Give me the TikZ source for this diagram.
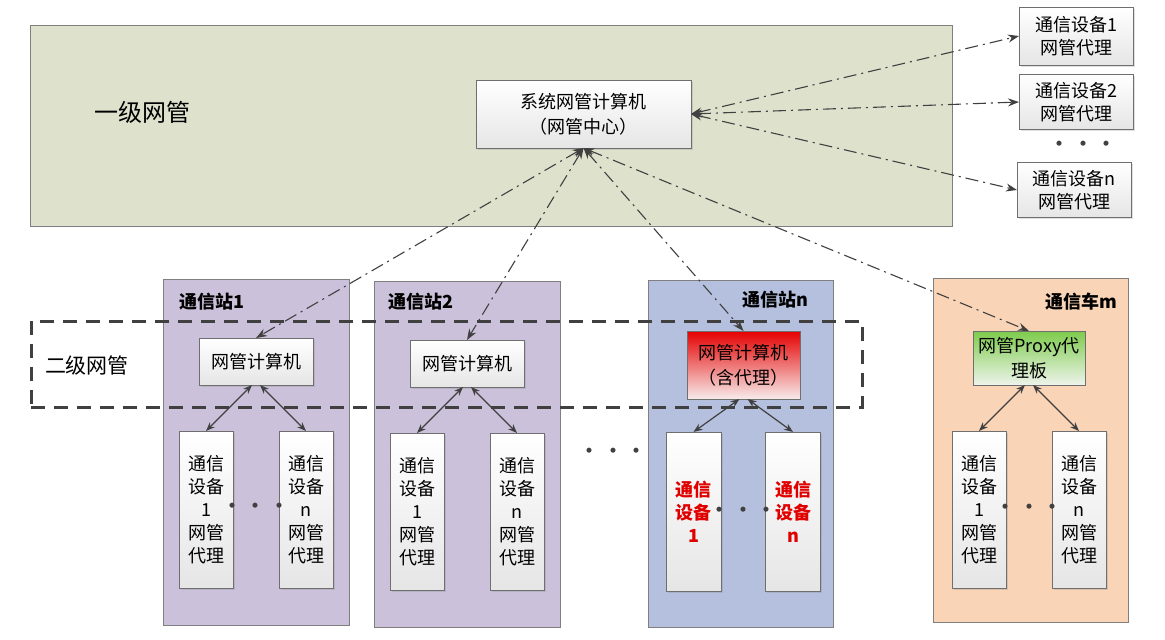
\documentclass[tikz,border=0pt]{standalone}
\usepackage{fontspec}
\setmainfont{Noto Sans CJK SC}
\usetikzlibrary{arrows.meta,shadows}
\definecolor{bgGreen}{HTML}{DEE2CD}
\definecolor{stPurple}{HTML}{CCC1DA}
\definecolor{stBlue}{HTML}{B4C0DE}
\definecolor{stPeach}{HTML}{F9D4B6}
\definecolor{edgeGray}{HTML}{7F7F7F}
\definecolor{boxEdge}{HTML}{6F6F6F}
\definecolor{arrowGray}{HTML}{404040}
\definecolor{devRed}{HTML}{E00000}
\definecolor{redTop}{HTML}{E50000}
\definecolor{redMid}{HTML}{EE3232}
\definecolor{redBot}{HTML}{F8ECEC}
\definecolor{greenTop}{HTML}{7DCB4B}
\definecolor{greenBot}{HTML}{EEF4EC}
\newcommand\fsz[2]{\fontsize{#1pt}{#2pt}\selectfont}
\newcommand\threedots{·\hskip6pt·\hskip6pt·}
\begin{document}
\begin{tikzpicture}[x=1pt,y=-1pt,
  every node/.style={inner sep=0pt, outer sep=0pt, align=center, font=\fsz{18}{23}},
  lvlbox/.style={draw=edgeGray, fill=bgGreen, line width=0.9pt},
  stbox/.style={draw=edgeGray, line width=0.9pt},
  wbox/.style={draw=boxEdge, line width=0.9pt, top color=white, bottom color=black!10,
     drop shadow={shadow xshift=1.5pt, shadow yshift=-1.5pt, opacity=0.25}},
  redbox/.style={draw=boxEdge, line width=0.9pt, top color=redTop, middle color=redMid, bottom color=redBot},
  greenbox/.style={draw=boxEdge, line width=0.9pt, top color=greenTop, bottom color=greenBot},
  devbox/.style={wbox, minimum width=54pt, minimum height=157pt},
  titlelbl/.style={font=\bfseries\fsz{18}{22}},
  dotsrow/.style={font=\bfseries\fsz{18}{22}, text=arrowGray},
  ddarrow/.style={draw=arrowGray, line width=1.1pt, dash pattern=on 13pt off 5pt on 2pt off 5pt,
     {Stealth[length=11pt,width=8pt]}-{Stealth[length=11pt,width=8pt]}},
  sarrow/.style={draw=arrowGray, line width=1.2pt,
     {Stealth[length=9pt,width=7pt]}-{Stealth[length=9pt,width=7pt]}}
]
\useasboundingbox[fill=white] (0,0) rectangle (1165,640);

% level 1 area
\node[lvlbox, minimum width=922pt, minimum height=201pt] (lvl1) at (491,125.5) {};
\node[font=\fsz{24}{28}, anchor=west] (lvl1lbl) at (94,112) {一级网管};

% stations
\node[stbox, fill=stPurple, minimum width=186pt, minimum height=346pt] (st1) at (256,452) {};
\node[stbox, fill=stPurple, minimum width=186pt, minimum height=346pt] (st2) at (467,454) {};
\node[stbox, fill=stBlue, minimum width=185pt, minimum height=347pt] (stn) at (740.5,453.5) {};
\node[stbox, fill=stPeach, minimum width=195pt, minimum height=344pt] (car) at (1030.5,450) {};

\node[titlelbl, anchor=west] (t1) at (179,302) {通信站1};
\node[titlelbl, anchor=west] (t2) at (388,302) {通信站2};
\node[titlelbl, anchor=east] (tn) at (808,300) {通信站n};
\node[titlelbl, anchor=east] (tm) at (1117,302) {通信车m};

% level 2 dashed area
\node[draw=arrowGray, line width=3pt, dash pattern=on 14pt off 9pt,
      minimum width=831pt, minimum height=86pt] (lvl2) at (446.5,364) {};
\node[font=\fsz{21}{25}, anchor=west] (lvl2lbl) at (45,365) {二级网管};

% central management computer
\node[wbox, minimum width=215pt, minimum height=68pt, font=\fsz{18}{25}] (nmc) at (583.5,114)
  {系统网管计算机\\（网管中心）};

% right-hand agents
\node[wbox, minimum width=114pt, minimum height=58pt] (a1) at (1076,36) {通信设备1\\网管代理};
\node[wbox, minimum width=114pt, minimum height=55pt] (a2) at (1076,102) {通信设备2\\网管代理};
\node[dotsrow] (adots) at (1083,146) {\threedots};
\node[wbox, minimum width=114pt, minimum height=55pt] (an) at (1074,190) {通信设备n\\网管代理};

% station computers
\node[wbox, minimum width=114pt, minimum height=47pt] (c1) at (256,361.5) {网管计算机};
\node[wbox, minimum width=114pt, minimum height=47pt] (c2) at (467,363.5) {网管计算机};
\node[redbox, minimum width=113pt, minimum height=68pt, font=\fsz{18}{25}] (cn) at (743.5,365) {网管计算机\\（含代理）};
\node[greenbox, minimum width=112pt, minimum height=54pt, font=\fsz{18}{25}] (cp) at (1029,358) {网管Proxy代\\理板};

% devices
\node[devbox] (s1d1) at (206,509.5) {通信\\设备\\1\\网管\\代理};
\node[devbox] (s1dn) at (306,509.5) {通信\\设备\\n\\网管\\代理};
\node[devbox] (s2d1) at (417,511.5) {通信\\设备\\1\\网管\\代理};
\node[devbox] (s2dn) at (517,511.5) {通信\\设备\\n\\网管\\代理};
\node[devbox, minimum width=55pt, minimum height=159pt, text=devRed, font=\bfseries\fsz{18}{23}] (snd1) at (693.5,511.5) {通信\\设备\\1};
\node[devbox, minimum width=55pt, minimum height=159pt, text=devRed, font=\bfseries\fsz{18}{23}] (sndn) at (793,511.5) {通信\\设备\\n};
\node[devbox] (cd1) at (979,509.5) {通信\\设备\\1\\网管\\代理};
\node[devbox] (cdn) at (1079,509.5) {通信\\设备\\n\\网管\\代理};

% dots
\node[dotsrow] (d1) at (256,508) {\threedots};
\node[dotsrow] (d2) at (743,512) {\threedots};
\node[dotsrow] (d3) at (1029,509) {\threedots};
\node[dotsrow] (dmid) at (613,453) {\threedots};

% long dash-dot connectors
\draw[ddarrow] (nmc.east) -- (a1.west);
\draw[ddarrow] (nmc.east) -- (a2.west);
\draw[ddarrow] (nmc.east) -- (an.west);
\draw[ddarrow] (nmc.south) -- (c1.north);
\draw[ddarrow] (nmc.south) -- (c2.north);
\draw[ddarrow] (nmc.south) -- (cn.north);
\draw[ddarrow] (nmc.south) -- (cp.north);

% local connectors
\draw[sarrow] ([xshift=-4pt]c1.south) -- (s1d1.north);
\draw[sarrow] ([xshift=4pt]c1.south) -- (s1dn.north);
\draw[sarrow] ([xshift=-4pt]c2.south) -- (s2d1.north);
\draw[sarrow] ([xshift=4pt]c2.south) -- (s2dn.north);
\draw[sarrow] ([xshift=-4pt]cn.south) -- (snd1.north);
\draw[sarrow] ([xshift=4pt]cn.south) -- (sndn.north);
\draw[sarrow] ([xshift=-4pt]cp.south) -- (cd1.north);
\draw[sarrow] ([xshift=4pt]cp.south) -- (cdn.north);
\end{tikzpicture}
\end{document}
